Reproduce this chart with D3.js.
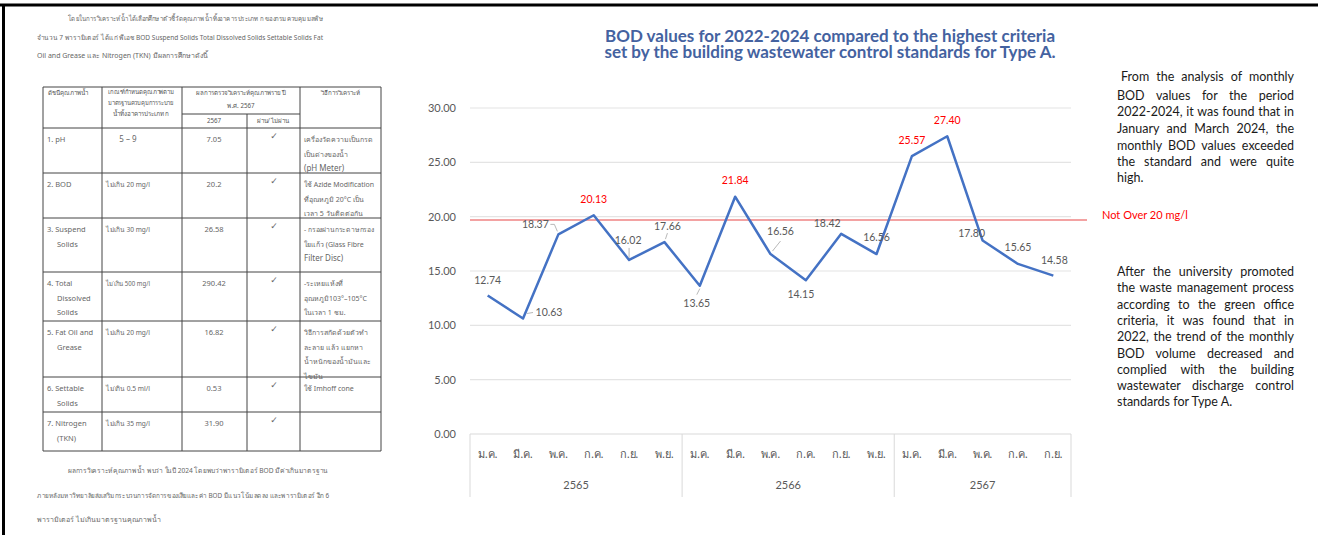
<!DOCTYPE html>
<html>
<head>
<meta charset="utf-8">
<script src="https://cdn.jsdelivr.net/npm/d3@7"></script>
<style>
	html, body { margin: 0; padding: 0; background: #fff; }
	svg { display: block; }
</style>
</head>
<body>
<div id="chart-container"></div>
<script>
// ---- chart data ----
var months = ["ม.ค.", "มี.ค.", "พ.ค.", "ก.ค.", "ก.ย.", "พ.ย.",
	"ม.ค.", "มี.ค.", "พ.ค.", "ก.ค.", "ก.ย.", "พ.ย.",
	"ม.ค.", "มี.ค.", "พ.ค.", "ก.ค.", "ก.ย."];
var years = ["2565", "2566", "2567"];
var months_per_year = [6, 6, 5];
var bod_values = [12.74, 10.63, 18.37, 20.13, 16.02, 17.66, 13.65, 21.84, 16.56,
	14.15, 18.42, 16.56, 25.57, 27.40, 17.80, 15.65, 14.58];
var y_ticks = [0, 5, 10, 15, 20, 25, 30];
var limit_value = 19.7; // where the red standard line sits in the picture
var limit_label = "Not Over 20 mg/l";
var title_lines = ["BOD values for 2022-2024 compared to the highest criteria",
	"set by the building wastewater control standards for Type A."];

// ---- side notes ----
var note_1 = ["From the analysis of monthly", "BOD values for the period",
	"2022-2024, it was found that in", "January and March 2024, the",
	"monthly BOD values exceeded", "the standard and were quite", "high."];
var note_2 = ["After the university promoted", "the waste management process",
	"according to the green office", "criteria, it was found that in",
	"2022, the trend of the monthly", "BOD volume decreased and",
	"complied with the building", "wastewater discharge control",
	"standards for Type A."];

// ---- scanned document on the left ----
var doc_intro = ["โดยในการวิเคราะห์น้ำได้เลือกศึกษาตัวชี้วัดคุณภาพน้ำทิ้งอาคารประเภท ก ของกรมควบคุมมลพิษ",
	"จำนวน 7 พารามิเตอร์ ได้แก่ พีเอช BOD Suspend Solids Total Dissolved Solids  Settable Solids Fat",
	"Oil and Grease และ Nitrogen (TKN) มีผลการศึกษาดังนี้"];
var doc_summary = ["ผลการวิเคราะห์คุณภาพน้ำ พบว่า ในปี 2024 โดยพบว่าพารามิเตอร์ BOD มีค่าเกินมาตรฐาน",
	"ภายหลังมหาวิทยาลัยส่งเสริมกระบวนการจัดการของเสียและค่า BOD มีแนวโน้มลดลง และพารามิเตอร์ อีก 6",
	"พารามิเตอร์ ไม่เกินมาตรฐานคุณภาพน้ำ"];
var table_params = [["1. pH"], ["2. BOD"], ["3. Suspend", "Solids"],
	["4. Total", "Dissolved", "Solids"], ["5. Fat Oil and", "Grease"],
	["6. Settable", "Solids"], ["7. Nitrogen", "(TKN)"]];
var table_standards = ["5 – 9", "ไม่เกิน 20 mg/l", "ไม่เกิน 30 mg/l", "ไม่เกิน 500 mg/l",
	"ไม่เกิน 20 mg/l", "ไม่เกิน 0.5 ml/l", "ไม่เกิน 35 mg/l"];
var table_results = ["7.05", "20.2", "26.58", "290.42", "16.82", "0.53", "31.90"];
var table_methods = [["เครื่องวัดความเป็นกรด", "เป็นด่างของน้ำ", "(pH Meter)"],
	["ใช้ Azide Modification", "ที่อุณหภูมิ 20°C เป็น", "เวลา 5 วันติดต่อกัน"],
	["- กรองผ่านกระดาษกรอง", "ใยแก้ว (Glass Fibre", "Filter Disc)"],
	["-ระเหยแห้งที่", "อุณหภูมิ103°–105°C", "ในเวลา 1 ชม."],
	["วิธีการสกัดด้วยตัวทำ", "ละลาย แล้ว แยกหา", "น้ำหนักของน้ำมันและ", "ไขมัน"],
	["ใช้ Imhoff cone"], []];

// label placement around each point [dx, dy], and leader lines (relative to point)
var label_offsets = [[0, -16], [26, -6], [-23, -10], [0, -16], [-1, -20], [3, -16],
	[-3, 17], [0, -17], [10, -23], [-5, 14], [-14, -11], [0, -17],
	[0, -16], [0, -16], [-11, -8], [0, -17], [1, -16]];
var leaders = {1: [[4, -5], [10, -6]], 2: [[-8, -10], [-4, -10], [-1, -3]],
	4: [[0, -12], [0, -2]], 5: [[3, -9], [1, -3]], 6: [[0, 3], [-3, 9]],
	8: [[10, -13], [2, -3]]};

var svg_width = 1318;
var svg_height = 535;
var chart_font = "Lato, 'Noto Sans', 'DejaVu Sans', sans-serif";
var doc_font = "'Noto Sans', 'DejaVu Sans', sans-serif";
var thai_re = /[\u0E00-\u0E7F]/;

var svg = d3.select("#chart-container")
	.append("svg")
	.attr("width", svg_width)
	.attr("height", svg_height);

// page frame
svg.append("line")
	.attr("x1", 0).attr("x2", svg_width).attr("y1", 5).attr("y2", 5)
	.attr("stroke", "#000").attr("stroke-width", 3);
svg.append("line")
	.attr("x1", 3.5).attr("x2", 3.5).attr("y1", 4).attr("y2", svg_height)
	.attr("stroke", "#000").attr("stroke-width", 3);

function justify(sel, width) {
	sel.each(function() {
		var t = d3.select(this);
		var natural = this.getComputedTextLength();
		var spaces = (t.text().match(/ /g) || []).length;
		if (spaces > 0 && natural < width) t.style("word-spacing", ((width - natural) / spaces) + "px");
	});
}

// squeeze a text into a width (scan text is narrower than our fonts)
function fit(sel, width) {
	sel.each(function() {
		if (this.getComputedTextLength() > width) {
			d3.select(this).attr("textLength", width).attr("lengthAdjust", "spacingAndGlyphs");
		}
	});
}

function doc_size(d) { return thai_re.test(d) ? "7px" : "8px"; }

// ================= left document =================
var doc = svg.append("g")
	.style("font-family", doc_font)
	.style("font-size", "7px")
	.attr("fill", "#666");

var intro_x = [68, 37, 37];
var intro_w = [255, 286, 0];
doc.selectAll(".intro")
	.data(doc_intro)
	.enter().append("text")
	.attr("class", "intro")
	.attr("x", function(d, i) { return intro_x[i]; })
	.attr("y", function(d, i) { return 21 + i * 18.5; })
	.attr("textLength", function(d, i) { return intro_w[i] || null; })
	.attr("lengthAdjust", "spacingAndGlyphs")
	.text(function(d) { return d; });

var summary_w = [260, 292, 0];
doc.selectAll(".summary")
	.data(doc_summary)
	.enter().append("text")
	.attr("class", "summary")
	.attr("x", function(d, i) { return intro_x[i]; })
	.attr("y", function(d, i) { return 473 + i * 24.5; })
	.attr("textLength", function(d, i) { return summary_w[i] || null; })
	.attr("lengthAdjust", "spacingAndGlyphs")
	.text(function(d) { return d; });

var col_x = [43, 102, 182, 247, 300, 381];
var row_y = [87, 128, 173, 218, 272, 321, 377, 412, 451];
var table = doc.append("g");
var table_stroke = "#444";

col_x.forEach(function(cx, i) {
	table.append("line")
		.attr("x1", cx).attr("x2", cx)
		.attr("y1", i == 3 ? 114 : row_y[0])
		.attr("y2", row_y[row_y.length - 1])
		.attr("stroke", table_stroke).attr("stroke-width", 1);
});
row_y.forEach(function(ry) {
	table.append("line")
		.attr("x1", col_x[0]).attr("x2", col_x[5])
		.attr("y1", ry).attr("y2", ry)
		.attr("stroke", table_stroke).attr("stroke-width", 1);
});
table.append("line")
	.attr("x1", col_x[2]).attr("x2", col_x[4]).attr("y1", 114).attr("y2", 114)
	.attr("stroke", table_stroke).attr("stroke-width", 1);

// header
var header = table.append("g").style("font-size", "6.2px").attr("fill", "#555");
fit(header.append("text").attr("x", 48).attr("y", 95).text("ดัชนีคุณภาพน้ำ"), 50);
["เกณฑ์กำหนดคุณภาพตาม", "มาตรฐานควบคุมการระบาย", "น้ำทิ้งอาคารประเภท ก"].forEach(function(s, i) {
	fit(header.append("text").attr("x", 141).attr("y", 94 + i * 11).attr("text-anchor", "middle").text(s), 66);
});
fit(header.append("text").attr("x", 241).attr("y", 95).attr("text-anchor", "middle").text("ผลการตรวจวิเคราะห์คุณภาพราย ปี"), 108);
header.append("text").attr("x", 241).attr("y", 108).attr("text-anchor", "middle").text("พ.ศ. 2567");
header.append("text").attr("x", 214).attr("y", 123).attr("text-anchor", "middle").text("2567");
header.append("text").attr("x", 273).attr("y", 123).attr("text-anchor", "middle").text("ผ่าน/ ไม่ผ่าน");
header.append("text").attr("x", 340).attr("y", 95).attr("text-anchor", "middle").text("วิธีการวิเคราะห์");

// body rows
var rows = table.selectAll(".doc-row")
	.data(table_params)
	.enter().append("g")
	.attr("class", "doc-row")
	.attr("transform", function(d, i) { return "translate(0," + row_y[i + 1] + ")"; });

rows.selectAll(".param")
	.data(function(d) { return d; })
	.enter().append("text")
	.attr("x", function(d, i) { return i == 0 ? 47 : 57; })
	.attr("y", function(d, i) { return 14 + i * 14.5; })
	.style("font-size", "7.5px")
	.text(function(d) { return d; });

fit(rows.append("text")
	.attr("x", 128).attr("y", 14).attr("text-anchor", "middle")
	.style("font-size", function(d, i) { return doc_size(table_standards[i]); })
	.text(function(d, i) { return table_standards[i]; }), 44);

rows.append("text")
	.attr("x", 214).attr("y", 14).attr("text-anchor", "middle")
	.style("font-size", "7.5px")
	.text(function(d, i) { return table_results[i]; });

rows.append("text")
	.attr("x", 274).attr("y", 11).attr("text-anchor", "middle")
	.style("font-family", "'DejaVu Sans', sans-serif")
	.style("font-size", "9px")
	.text("✓");

fit(rows.selectAll(".method")
	.data(function(d, i) { return table_methods[i]; })
	.enter().append("text")
	.attr("x", 304)
	.attr("y", function(d, i) { return 14 + i * 14.5; })
	.style("font-size", function(d) { return doc_size(d); })
	.text(function(d) { return d; }), 70);

// ================= chart =================
var chart_left = 470;
var chart_right = 1071;
var chart_top = 108;
var chart_bottom = 434;

var x = d3.scaleBand()
	.domain(d3.range(bod_values.length))
	.range([chart_left, chart_right]);

var y = d3.scaleLinear()
	.domain([0, 30])
	.range([chart_bottom, chart_top]);

var cx = function(i) { return x(i) + x.bandwidth() / 2; };

var chart = svg.append("g").style("font-family", chart_font);

var title = chart.append("text")
	.attr("x", 830)
	.attr("y", 41.5)
	.attr("text-anchor", "middle")
	.style("font-size", "17px")
	.style("font-weight", "700")
	.attr("fill", "#4462a0");
title.selectAll("tspan")
	.data(title_lines)
	.enter().append("tspan")
	.attr("x", 830)
	.attr("dy", function(d, i) { return i == 0 ? 0 : 16.5; })
	.text(function(d) { return d; });

// gridlines
chart.selectAll(".grid")
	.data(y_ticks.filter(function(t) { return t > 0; }))
	.enter().append("line")
	.attr("class", "grid")
	.attr("x1", chart_left).attr("x2", chart_right)
	.attr("y1", function(d) { return y(d); })
	.attr("y2", function(d) { return y(d); })
	.attr("stroke", "#e4e4e4").attr("stroke-width", 1.2);

// y axis labels
var y_axis = chart.append("g")
	.attr("transform", "translate(" + (chart_left - 10) + ",0)")
	.call(d3.axisLeft(y).tickValues(y_ticks).tickFormat(d3.format(".2f")).tickSize(0).tickPadding(4));
y_axis.select(".domain").remove();
y_axis.selectAll("text")
	.style("font-family", chart_font)
	.style("font-size", "11px")
	.attr("fill", "#595959");

// category axis
chart.append("line")
	.attr("x1", chart_left).attr("x2", chart_right)
	.attr("y1", chart_bottom).attr("y2", chart_bottom)
	.attr("stroke", "#d9d9d9").attr("stroke-width", 1);

var group_edges = [0];
months_per_year.forEach(function(n, i) { group_edges.push(group_edges[i] + n); });
var edge_x = function(k) { return k < bod_values.length ? x(k) : chart_right; };

chart.selectAll(".divider")
	.data(group_edges)
	.enter().append("line")
	.attr("class", "divider")
	.attr("x1", edge_x)
	.attr("x2", edge_x)
	.attr("y1", chart_bottom).attr("y2", chart_bottom + 63)
	.attr("stroke", "#d9d9d9").attr("stroke-width", 1);

chart.selectAll(".month")
	.data(months)
	.enter().append("text")
	.attr("class", "month")
	.attr("x", function(d, i) { return cx(i); })
	.attr("y", chart_bottom + 24)
	.attr("text-anchor", "middle")
	.style("font-size", "11px")
	.attr("fill", "#595959")
	.text(function(d) { return d; });

chart.selectAll(".year")
	.data(years)
	.enter().append("text")
	.attr("class", "year")
	.attr("x", function(d, i) { return (edge_x(group_edges[i]) + edge_x(group_edges[i + 1])) / 2; })
	.attr("y", chart_bottom + 55)
	.attr("text-anchor", "middle")
	.style("font-size", "11px")
	.attr("fill", "#595959")
	.text(function(d) { return d; });

// standard line
chart.append("line")
	.attr("x1", chart_left).attr("x2", chart_right + 16)
	.attr("y1", y(limit_value)).attr("y2", y(limit_value))
	.attr("stroke", "#f3a2a2").attr("stroke-width", 2);
chart.append("text")
	.attr("x", 1102).attr("y", y(limit_value) - 1)
	.style("font-size", "11px")
	.attr("fill", "#ff0000")
	.text(limit_label);

// the BOD line
var line = d3.line()
	.x(function(d, i) { return cx(i); })
	.y(function(d) { return y(d); });

chart.append("path")
	.datum(bod_values)
	.attr("d", line)
	.attr("fill", "none")
	.attr("stroke", "#4472c4")
	.attr("stroke-width", 2.5)
	.attr("stroke-linejoin", "round");

// leader lines
Object.keys(leaders).forEach(function(k) {
	var i = +k;
	var pts = leaders[k].map(function(p) { return [cx(i) + p[0], y(bod_values[i]) + p[1]]; });
	chart.append("path")
		.attr("d", d3.line()(pts))
		.attr("fill", "none")
		.attr("stroke", "#a6a6a6")
		.attr("stroke-width", 0.8);
});

// data labels
chart.selectAll(".value")
	.data(bod_values)
	.enter().append("text")
	.attr("class", "value")
	.attr("x", function(d, i) { return cx(i) + label_offsets[i][0]; })
	.attr("y", function(d, i) { return y(d) + label_offsets[i][1] + 4; })
	.attr("text-anchor", "middle")
	.style("font-size", "10.5px")
	.attr("fill", function(d) { return d > 20 ? "#ff0000" : "#595959"; })
	.text(function(d) { return d.toFixed(2); });

// ================= side notes =================
var notes = svg.append("g")
	.style("font-family", chart_font)
	.style("font-size", "12.5px")
	.attr("fill", "#1a1a1a");

var note_1_y = [80.5, 99.5, 116, 133, 149.5, 165.5, 182];
var n1 = notes.selectAll(".note1")
	.data(note_1)
	.enter().append("text")
	.attr("class", "note1")
	.attr("x", function(d, i) { return i == 0 ? 1121 : 1117; })
	.attr("y", function(d, i) { return note_1_y[i]; })
	.text(function(d) { return d; });
justify(n1.filter(function(d, i) { return i == 0; }), 173);
justify(n1.filter(function(d, i) { return i > 0 && i < note_1.length - 1; }), 177);

var n2 = notes.selectAll(".note2")
	.data(note_2)
	.enter().append("text")
	.attr("class", "note2")
	.attr("x", 1117)
	.attr("y", function(d, i) { return 276 + i * 16.3; })
	.text(function(d) { return d; });
justify(n2.filter(function(d, i) { return i < note_2.length - 1; }), 177);
</script>
</body>
</html>
